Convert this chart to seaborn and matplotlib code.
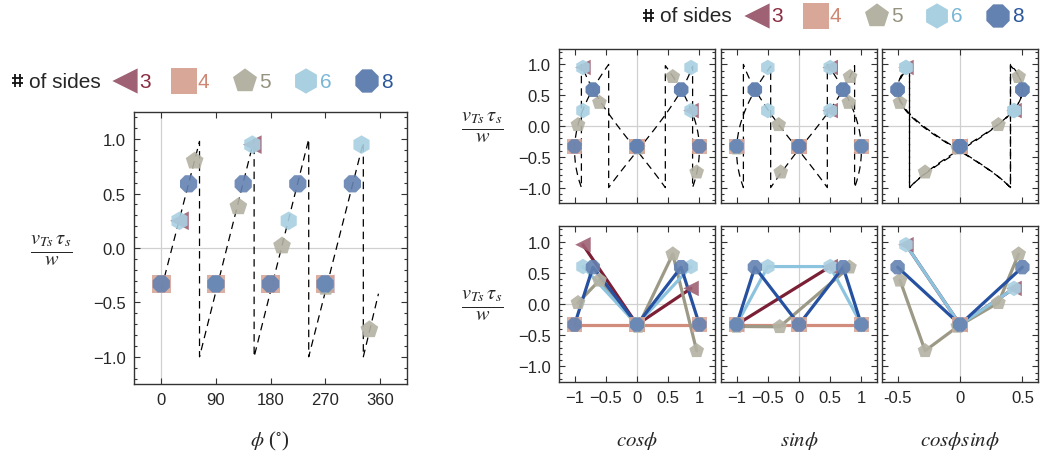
import numpy as np
import pandas as pd
import matplotlib
matplotlib.use('Agg')
import matplotlib.pyplot as plt
import seaborn as sns
from matplotlib.ticker import MultipleLocator

sns.set_theme(style='ticks')
plt.rcParams['font.family'] = ['Liberation Sans', 'DejaVu Sans']
plt.rcParams['mathtext.fontset'] = 'stix'

# values: polygon vertex angles (deg) and v*tau/w
sides = [3, 4, 5, 6, 8]
phi_3 = [30, 150, 270]
val_3 = [0.25, 0.95, -0.33]
phi_4 = [0, 90, 180, 270]
val_4 = [-0.33, -0.33, -0.33, -0.33]
phi_5 = [55, 127, 199, 271, 343]
val_5 = [0.80, 0.38, 0.02, -0.36, -0.75]
phi_6 = [30, 90, 150, 210, 270, 330]
val_6 = [0.25, -0.33, 0.95, 0.25, -0.33, 0.95]
phi_8 = [0, 45, 90, 135, 180, 225, 270, 315]
val_8 = [-0.33, 0.59, -0.33, 0.59, -0.33, 0.59, -0.33, 0.59]

# corners of the dashed sawtooth guide
saw_phi = [0, 63, 63, 153, 153, 243, 243, 333, 333, 358]
saw_val = [-0.38, 0.98, -1.0, 1.0, -1.0, 1.0, -1.0, 0.97, -1.0, -0.42]

marker_of = {3: '<', 4: 's', 5: 'p', 6: 'h', 8: '8'}
fill_of = {3: '#9f6274', 4: '#d8a797', 5: '#b4b2a3', 6: '#a9d0e1', 8: '#6482b1'}
text_of = {3: '#8a2b40', 4: '#cf8672', 5: '#969280', 6: '#7ab6d6', 8: '#2b579b'}
line_of = {3: '#7b1f35', 4: '#d28c7b', 5: '#9c9a86', 6: '#8cc3de', 8: '#2651a0'}

frames = []
for n, ph, v in zip(sides, [phi_3, phi_4, phi_5, phi_6, phi_8],
                    [val_3, val_4, val_5, val_6, val_8]):
    frames.append(pd.DataFrame({'sides': n, 'phi': ph, 'val': v}))
pts = pd.concat(frames, ignore_index=True)
rad = np.deg2rad(pts['phi'])
pts['cos'] = np.cos(rad)
pts['sin'] = np.sin(rad)
pts['cossin'] = pts['cos'] * pts['sin']

# dashed guide, each straight piece split up so it bends under cos/sin
pieces = []
for i in range(len(saw_phi) - 1):
    pieces.append(pd.DataFrame({
        'phi': np.linspace(saw_phi[i], saw_phi[i + 1], 40),
        'val': np.linspace(saw_val[i], saw_val[i + 1], 40)}))
curve = pd.concat(pieces, ignore_index=True)
crad = np.deg2rad(curve['phi'])
curve['cos'] = np.cos(crad)
curve['sin'] = np.sin(crad)
curve['cossin'] = curve['cos'] * curve['sin']

W, H = 1042, 460
fig = plt.figure(figsize=(W / 100, H / 100), dpi=100)


def px_axes(x0, y0, x1, y1):
    return fig.add_axes([x0 / W, 1 - y1 / H, (x1 - x0) / W, (y1 - y0) / H])


def style(ax, xlim, xticks, xlabels=None, show_y=True):
    ax.set_xlim(xlim)
    ax.set_ylim(-1.25, 1.25)
    ax.axhline(0, color='#d0d0d0', lw=0.9, zorder=0)
    ax.axvline(0, color='#d0d0d0', lw=0.9, zorder=0)
    ax.set_xticks(xticks)
    if xlabels is None:
        ax.set_xticklabels([])
    else:
        ax.set_xticklabels(xlabels)
    ax.yaxis.set_major_locator(MultipleLocator(0.5))
    ax.yaxis.set_minor_locator(MultipleLocator(0.1))
    ax.tick_params(which='both', direction='in', top=True, right=True,
                   labelsize=12, color='#333333', width=0.8)
    ax.tick_params(which='major', length=4, pad=6)
    ax.tick_params(which='minor', length=2)
    if not show_y:
        ax.set_yticklabels([])
    for sp in ax.spines.values():
        sp.set_color('#333333')
        sp.set_linewidth(1.0)
    ax.set_xlabel('')
    ax.set_ylabel('')


def scatter_all(ax, df, xcol, size):
    for n in sides:
        sub = df[df['sides'] == n]
        sns.scatterplot(data=sub, x=xcol, y='val', marker=marker_of[n],
                        color=fill_of[n], s=size, edgecolor='none',
                        alpha=0.9, ax=ax, legend=False, zorder=3)


# left panel: against phi
ax0 = px_axes(134, 113, 407, 385)
sns.lineplot(data=curve, x='phi', y='val', sort=False, estimator=None,
             color='black', lw=0.9, linestyle=(0, (6, 4)), ax=ax0, zorder=2)
scatter_all(ax0, pts, 'phi', 180)
style(ax0, (-45, 405), [0, 90, 180, 270, 360], ['0', '90', '180', '270', '360'])

# right panels
cols = [('cos', 559, 715, (-1.25, 1.25), [-1, -0.5, 0, 0.5, 1],
         ['\u22121', '\u22120.5', '0', '0.5', '1']),
        ('sin', 721, 877, (-1.25, 1.25), [-1, -0.5, 0, 0.5, 1],
         ['\u22121', '\u22120.5', '0', '0.5', '1']),
        ('cossin', 882, 1038, (-0.625, 0.625), [-0.5, 0, 0.5],
         ['-0.5', '0', '0.5'])]

for j, (xcol, x0, x1, xlim, xt, xtl) in enumerate(cols):
    top = px_axes(x0, 50, x1, 204)
    sns.lineplot(data=curve, x=xcol, y='val', sort=False, estimator=None,
                 color='black', lw=0.9, linestyle=(0, (6, 4)), ax=top, zorder=2)
    scatter_all(top, pts, xcol, 125)
    style(top, xlim, xt, None, show_y=(j == 0))

    bot = px_axes(x0, 227, x1, 383)
    grp = pts.assign(key=pts[xcol].round(1)).groupby(['sides', 'key'], as_index=False)
    avg = grp.agg(x=(xcol, 'mean'), val=('val', 'mean'))
    for n in sides:
        sub = avg[avg['sides'] == n].sort_values('x')
        sns.lineplot(data=sub, x='x', y='val', sort=False, estimator=None,
                     color=line_of[n], lw=2.3, ax=bot, zorder=2)
    scatter_all(bot, avg, 'x', 125)
    style(bot, xlim, xt, xtl, show_y=(j == 0))

# axis titles
ylab = r'$\frac{v_{Ts}\,\tau_s}{w}$'
fig.text(51 / W, 1 - 250 / H, ylab, fontsize=21, ha='center', va='center')
fig.text(482 / W, 1 - 127 / H, ylab, fontsize=21, ha='center', va='center')
fig.text(482 / W, 1 - 305 / H, ylab, fontsize=21, ha='center', va='center')
fig.text(270 / W, 1 - 441 / H, r'$\phi$ ($^{\circ}$)', fontsize=15,
         ha='center', va='center', family='Liberation Serif')
fig.text(637 / W, 1 - 441 / H, r'$cos\phi$', fontsize=15, ha='center', va='center')
fig.text(799 / W, 1 - 441 / H, r'$sin\phi$', fontsize=15, ha='center', va='center')
fig.text(960 / W, 1 - 441 / H, r'$cos\phi sin\phi$', fontsize=15, ha='center', va='center')

# legends ("# of sides" rows); no installed font has the ⌗ glyph, so draw it
lg = fig.add_axes([0, 0, 1, 1])
lg.set_xlim(0, W)
lg.set_ylim(H, 0)
lg.axis('off')
leg_rows = [(12, 82, [125, 184, 245, 306, 367]),
            (643, 17, [757, 816, 877, 937, 998])]
for x_text, y_row, centers in leg_rows:
    for dx in (3, 8):
        lg.plot([x_text + dx, x_text + dx], [y_row - 7, y_row + 6],
                color='#111111', lw=1.3, solid_capstyle='butt')
    for dy in (-3, 2):
        lg.plot([x_text, x_text + 11], [y_row + dy, y_row + dy],
                color='#111111', lw=1.3, solid_capstyle='butt')
    lg.text(x_text + 17, y_row, 'of sides', fontsize=15, ha='left', va='center')
    for n, cx in zip(sides, centers):
        lg.scatter([cx], [y_row], marker=marker_of[n], s=330, color=fill_of[n],
                   edgecolor='none')
        lg.text(cx + 14, y_row, str(n), fontsize=15, color=text_of[n],
                ha='left', va='center')

fig.savefig('out.png', dpi=100)
